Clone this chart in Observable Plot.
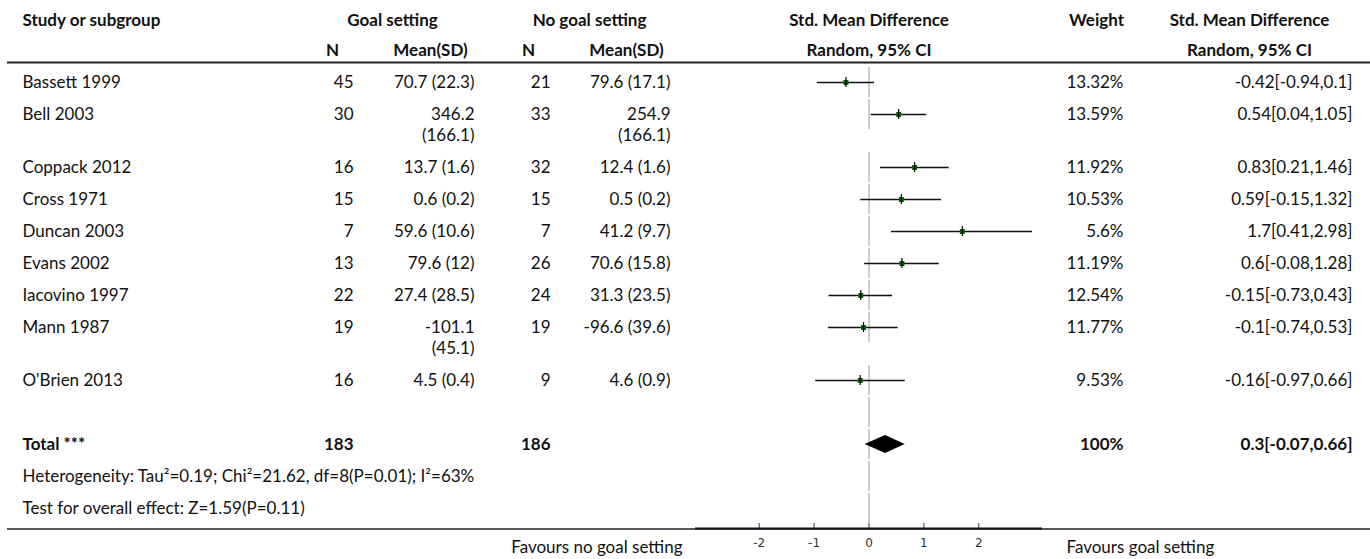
<!DOCTYPE html>
<html><head><meta charset="utf-8">
<script src="https://cdn.jsdelivr.net/npm/d3@7"></script>
<script src="https://cdn.jsdelivr.net/npm/@observablehq/plot@0.6"></script>
<style>
html,body{margin:0;padding:0;background:#fff;}
#chart svg{display:block;}
</style></head><body><div id="chart"></div>
<script>
// ---------- data ----------
const studies = ["Bassett 1999","Bell 2003","Coppack 2012","Cross 1971","Duncan 2003","Evans 2002","Iacovino 1997","Mann 1987","O'Brien 2013"];
const nGoal = [45,30,16,15,7,13,22,19,16];
const meanGoal = ["70.7 (22.3)","346.2 (166.1)","13.7 (1.6)","0.6 (0.2)","59.6 (10.6)","79.6 (12)","27.4 (28.5)","-101.1 (45.1)","4.5 (0.4)"];
const nNo = [21,33,32,15,7,26,24,19,9];
const meanNo = ["79.6 (17.1)","254.9 (166.1)","12.4 (1.6)","0.5 (0.2)","41.2 (9.7)","70.6 (15.8)","31.3 (23.5)","-96.6 (39.6)","4.6 (0.9)"];
const smd = [-0.42,0.54,0.83,0.59,1.7,0.6,-0.15,-0.1,-0.16];
const lower = [-0.94,0.04,0.21,-0.15,0.41,-0.08,-0.73,-0.74,-0.97];
const upper = [0.1,1.05,1.46,1.32,2.98,1.28,0.43,0.53,0.66];
const weight = [13.32,13.59,11.92,10.53,5.6,11.19,12.54,11.77,9.53];
const totalLabel = "Total ***";
const totalNGoal = 183, totalNNo = 186, totalWeight = 100;
const totalSmd = 0.3, totalLower = -0.07, totalUpper = 0.66;
const heterogeneity = "Heterogeneity: Tau\u00B2=0.19; Chi\u00B2=21.62, df=8(P=0.01); I\u00B2=63%";
const overallEffect = "Test for overall effect: Z=1.59(P=0.11)";
const tickValues = [-2,-1,0,1,2];
const favoursLeft = "Favours no goal setting", favoursRight = "Favours goal setting";

// ---------- layout ----------
const W = 1370, H = 559;
const plotLeft = 695, plotRight = 1042, axisY = 528;
const xDomain = [-3.16, 3.16];
const FONT = "Lato, 'Source Sans Pro', sans-serif", FS = 17;
const colStudy = 22, colNG = 353, colMG = 474, colNN = 550, colMN = 670, colW = 1123, colCI = 1352;
const hNG = 332, hMG = 430, hGrpG = 392, hNN = 528, hMN = 626, hGrpN = 589, hW = 1096, hCI = 1249;
const head1 = 20, head2 = 50, headLine = 62;
const rowTop = 82, rowH = 32, wrapH = 21;
const maxChars = 12;
const nLines = s => s.length > maxChars ? 2 : 1;
const wrap = s => s.length > maxChars ? s.replace(" ", "\n") : s;

let yy = rowTop;
const rows = studies.map((name, i) => {
  const n = Math.max(nLines(meanGoal[i]), nLines(meanNo[i]));
  const r = {name, nG: nGoal[i], mG: wrap(meanGoal[i]), nN: nNo[i], mN: wrap(meanNo[i]),
    smd: smd[i], lo: lower[i], hi: upper[i], w: weight[i], y: yy,
    ci: `${smd[i]}[${lower[i]},${upper[i]}]`};
  yy += rowH + (n - 1) * wrapH;
  return r;
});
const blankY = yy; yy += rowH;
const totalY = yy; yy += rowH;
const hetY = yy; yy += rowH;
const testY = yy;
const bands = [...rows.map(d => d.y), blankY, totalY, hetY, testY];
const diamond = [
  {y: totalY - 9, x1: totalSmd, x2: totalSmd},
  {y: totalY, x1: totalLower, x2: totalUpper},
  {y: totalY + 9, x1: totalSmd, x2: totalSmd}
];

const base = {fontFamily: FONT, fontSize: FS, fill: "#111", stroke: null};
const L = (x) => ({frameAnchor: "left", dx: x - plotLeft});
const txt = (data, o) => Plot.text(data, {...base, ...o});
const one = (s) => [s];
const hdr = (s, x, y) => txt(one(s), {...L(x), y: () => y, text: d => d, textAnchor: "middle", fontWeight: "bold"});

const chart = Plot.plot({
  width: W, height: H,
  marginLeft: plotLeft, marginRight: W - plotRight,
  marginTop: 0, marginBottom: H - axisY,
  style: {fontFamily: FONT, fontSize: FS + "px", background: "#fff", overflow: "visible"},
  x: {domain: xDomain},
  y: {domain: [0, axisY], range: [0, axisY], axis: null},
  marks: [
    // headers
    txt(one("Study or subgroup"), {...L(colStudy), y: () => head1, text: d => d, textAnchor: "start", fontWeight: "bold"}),
    hdr("Goal setting", hGrpG, head1),
    hdr("No goal setting", hGrpN, head1),
    txt(one("Std. Mean Difference"), {frameAnchor: "middle", y: () => head1, text: d => d, textAnchor: "middle", fontWeight: "bold"}),
    hdr("Weight", hW, head1),
    hdr("Std. Mean Difference", hCI, head1),
    hdr("N", hNG, head2),
    hdr("Mean(SD)", hMG, head2),
    hdr("N", hNN, head2),
    hdr("Mean(SD)", hMN, head2),
    txt(one("Random, 95% CI"), {frameAnchor: "middle", y: () => head2, text: d => d, textAnchor: "middle", fontWeight: "bold"}),
    hdr("Random, 95% CI", hCI, head2),
    Plot.ruleY([headLine], {stroke: "#222", strokeWidth: 2, insetLeft: 7 - plotLeft, insetRight: plotRight - W}),

    // study rows
    txt(rows, {...L(colStudy), y: "y", text: "name", textAnchor: "start"}),
    txt(rows, {...L(colNG), y: "y", text: "nG", textAnchor: "end"}),
    txt(rows, {...L(colMG), y: "y", text: "mG", textAnchor: "end", lineAnchor: "top", dy: -9, lineHeight: wrapH / FS}),
    txt(rows, {...L(colNN), y: "y", text: "nN", textAnchor: "end"}),
    txt(rows, {...L(colMN), y: "y", text: "mN", textAnchor: "end", lineAnchor: "top", dy: -9, lineHeight: wrapH / FS}),
    txt(rows, {...L(colW), y: "y", text: d => `${d.w}%`, textAnchor: "end"}),
    txt(rows, {...L(colCI), y: "y", text: "ci", textAnchor: "end"}),

    // total row
    txt(one(totalLabel), {...L(colStudy), y: () => totalY, text: d => d, textAnchor: "start", fontWeight: "bold"}),
    txt(one(totalNGoal), {...L(colNG), y: () => totalY, text: d => d, textAnchor: "end", fontWeight: "bold"}),
    txt(one(totalNNo), {...L(colNN), y: () => totalY, text: d => d, textAnchor: "end", fontWeight: "bold"}),
    txt(one(totalWeight), {...L(colW), y: () => totalY, text: d => `${d}%`, textAnchor: "end", fontWeight: "bold"}),
    txt(one(totalSmd), {...L(colCI), y: () => totalY, text: d => `${d}[${totalLower},${totalUpper}]`, textAnchor: "end", fontWeight: "bold"}),
    txt(one(heterogeneity), {...L(colStudy), y: () => hetY, text: d => d, textAnchor: "start"}),
    txt(one(overallEffect), {...L(colStudy), y: () => testY, text: d => d, textAnchor: "start"}),

    // forest
    Plot.ruleX(bands, {x: () => 0, y1: d => d - 15, y2: d => d + 15, stroke: "#9a9a9a", strokeWidth: 1}),
    Plot.ruleY(rows, {y: "y", x1: "lo", x2: "hi", stroke: "#111", strokeWidth: 1.3}),
    Plot.dot(rows, {x: "smd", y: "y", symbol: "square", r: 2.8, fill: "#006400", stroke: null}),
    Plot.ruleX(rows, {x: "smd", y1: d => d.y - 5, y2: d => d.y + 5, stroke: "#000", strokeWidth: 1.2}),
    Plot.areaX(diamond, {x1: "x1", x2: "x2", y: "y", fill: "#000", curve: "linear"}),

    // bottom lines & axis
    Plot.ruleY([axisY + 0.5], {stroke: "#222", strokeWidth: 1.5, insetLeft: 7 - plotLeft, insetRight: plotRight - W}),
    Plot.ruleY([axisY], {stroke: "#111", strokeWidth: 2}),
    Plot.ruleX(tickValues, {x: d => d, y1: () => axisY - 5, y2: () => axisY, stroke: "#333", strokeWidth: 1}),
    Plot.axisX({ticks: tickValues, tickSize: 0, tickPadding: 10, tickFormat: d => String(d), fontSize: 12, fontFamily: "DejaVu Sans, sans-serif", fill: "#333", label: null}),
    txt(one(favoursLeft), {...L(682), y: () => 547, text: d => d, textAnchor: "end"}),
    txt(one(favoursRight), {frameAnchor: "right", dx: 1066 - plotRight, y: () => 547, text: d => d, textAnchor: "start"})
  ]
});
document.getElementById("chart").appendChild(chart);
</script>
</body></html>
